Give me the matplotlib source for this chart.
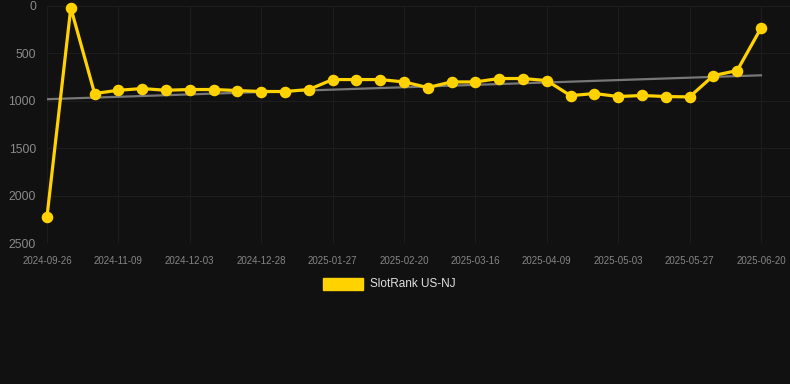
import numpy as np
import matplotlib
matplotlib.use("Agg")
import matplotlib.pyplot as plt
from matplotlib.patches import Rectangle

plt.rcParams['font.family'] = ['Liberation Sans', 'DejaVu Sans']

# rank per observation (lower is better, axis inverted)
ranks = [2221, 19, 923, 889, 871, 889, 881, 881, 892, 902, 902, 881,
         776, 776, 776, 801, 860, 801, 801, 765, 765, 787,
         946, 923, 955, 944, 955, 959, 734, 681, 233]
tick_labels = ['2024-09-26', '2024-11-09', '2024-12-03', '2024-12-28',
               '2025-01-27', '2025-02-20', '2025-03-16', '2025-04-09',
               '2025-05-03', '2025-05-27', '2025-06-20']
trend = [983, 731]   # trend line start / end
series_name = 'SlotRank US-NJ'

bg = '#111111'
yellow = '#FFD200'

fig = plt.figure(figsize=(7.9, 3.84), dpi=100, facecolor=bg)
ax = fig.add_axes([47/790, 1-243/384, 743/790, 237/384])
ax.set_facecolor(bg)

x = np.arange(len(ranks))
ax.plot([x[0], x[-1]], trend, color='#777777', lw=1.6, zorder=2)
ax.plot(x, ranks, color=yellow, lw=2.3, marker='o', ms=7.3, zorder=3,
        clip_on=False)

ax.set_xlim(0, (790-47)/23.8)
ax.set_ylim(2500, 0)
ax.set_yticks([0, 500, 1000, 1500, 2000, 2500])
ax.set_xticks(x[::3])
ax.set_xticklabels(tick_labels)

ax.grid(True, color='#1d1d1d', lw=0.8)
ax.set_axisbelow(True)
for s in ax.spines.values():
    s.set_visible(False)
ax.tick_params(axis='y', length=0, pad=8, labelsize=8.7, labelcolor='#8a8a8a')
ax.tick_params(axis='x', length=0, pad=9, labelsize=7, labelcolor='#858585')

# legend
fig.patches.append(Rectangle((323/790, 1-290/384), 40/790, 12/384,
                             transform=fig.transFigure, color=yellow))
fig.text(370/790, 1-284/384, series_name, color='#e0e0e0', fontsize=8.5,
         va='center', ha='left')

fig.savefig('out.png', dpi=100, facecolor=bg)
